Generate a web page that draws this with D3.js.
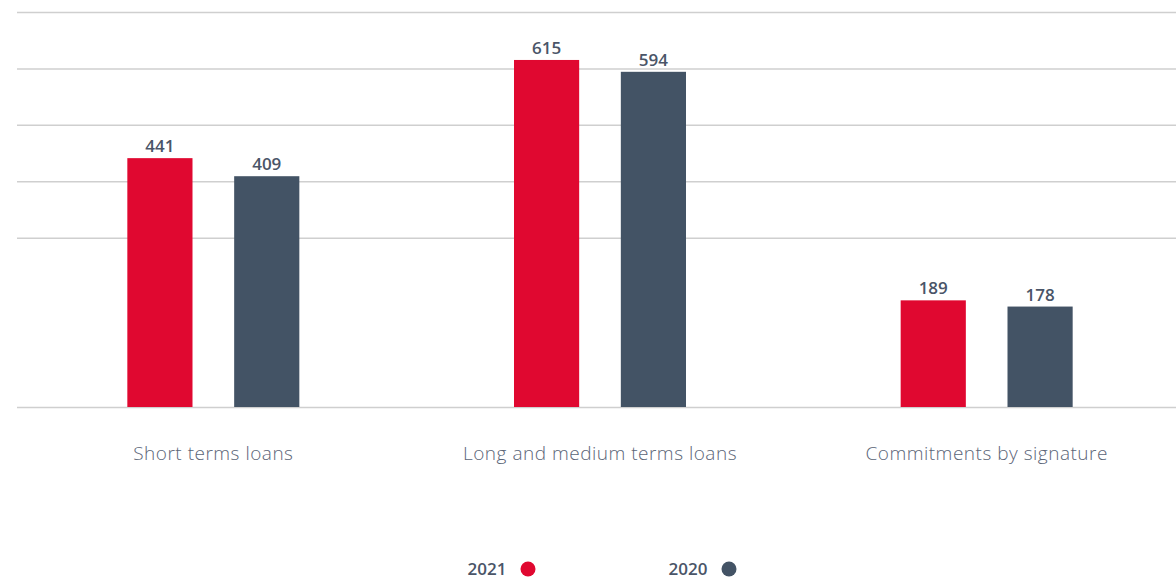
<!DOCTYPE html>
<html>
<head>
<meta charset="utf-8">
<script src="https://cdn.jsdelivr.net/npm/d3@7"></script>
<style>
  html, body { margin: 0; padding: 0; background: #fff; }
  svg { display: block; }
</style>
</head>
<body>
<svg id="chart" width="1176" height="583"></svg>
<script>
const categories = ["Short terms loans", "Long and medium terms loans", "Commitments by signature"];
const seriesNames = ["2021", "2020"];
const values2021 = [441, 615, 189];
const values2020 = [409, 594, 178];
const gridTicks = [0, 300, 400, 500, 600, 700];
const colors = ["#e00830", "#435365"];

const svg = d3.select("#chart");
const W = 1176;

const y = d3.scaleLinear().domain([0, 700]).range([407, 12]);
const x0 = d3.scaleBand().domain(categories).range([20, 1180]);
const x1 = d3.scaleBand().domain(seriesNames).range([0, 172]).paddingInner(0.39);
const color = d3.scaleOrdinal().domain(seriesNames).range(colors);

// gridlines
const yAxis = d3.axisLeft(y).tickValues(gridTicks).tickSize(-(W - 17)).tickFormat("");
const gAxis = svg.append("g").attr("transform", "translate(17,0)").call(yAxis);
gAxis.select(".domain").remove();
gAxis.selectAll(".tick line").attr("stroke", "#cfcfcf").attr("stroke-width", 1.5);

const data = categories.map((c, i) => ({
  cat: c,
  vals: [{ s: "2021", v: values2021[i] }, { s: "2020", v: values2020[i] }]
}));

const groups = svg.append("g").selectAll("g").data(data).join("g")
  .attr("transform", d => `translate(${x0(d.cat) + x0.bandwidth() / 2 - 86},0)`);

groups.selectAll("rect").data(d => d.vals).join("rect")
  .attr("x", d => x1(d.s))
  .attr("width", x1.bandwidth())
  .attr("y", d => y(d.v))
  .attr("height", d => y(0) - y(d.v))
  .attr("fill", d => color(d.s));

groups.selectAll("text").data(d => d.vals).join("text")
  .attr("x", d => x1(d.s) + x1.bandwidth() / 2)
  .attr("y", d => y(d.v) - 6)
  .attr("text-anchor", "middle")
  .attr("font-family", "'Open Sans', sans-serif")
  .attr("font-weight", 600)
  .attr("font-size", 17)
  .attr("fill", "#4a5568")
  .text(d => d.v);

// category labels
const xAxis = d3.axisBottom(x0).tickSize(0).tickPadding(0);
const gx = svg.append("g").attr("transform", "translate(0,460)").call(xAxis);
gx.select(".domain").remove();
gx.selectAll(".tick text")
  .attr("dy", 0)
  .attr("font-family", "'Open Sans', sans-serif")
  .attr("font-weight", 300)
  .attr("font-size", 19)
  .attr("letter-spacing", "0.5px")
  .attr("fill", "#5b6577");

// legend
const legendX = d3.scalePoint().domain(seriesNames).range([487, 688]);
const leg = svg.append("g").selectAll("g").data(seriesNames).join("g")
  .attr("transform", d => `translate(${legendX(d)},569)`);
leg.append("text")
  .attr("text-anchor", "middle")
  .attr("dy", "0.35em")
  .attr("font-family", "'Open Sans', sans-serif")
  .attr("font-weight", 600)
  .attr("font-size", 17)
  .attr("fill", "#4a5568")
  .text(d => d);
leg.append("circle")
  .attr("cx", 41)
  .attr("r", 7.5)
  .attr("fill", d => color(d));
</script>
</body>
</html>
